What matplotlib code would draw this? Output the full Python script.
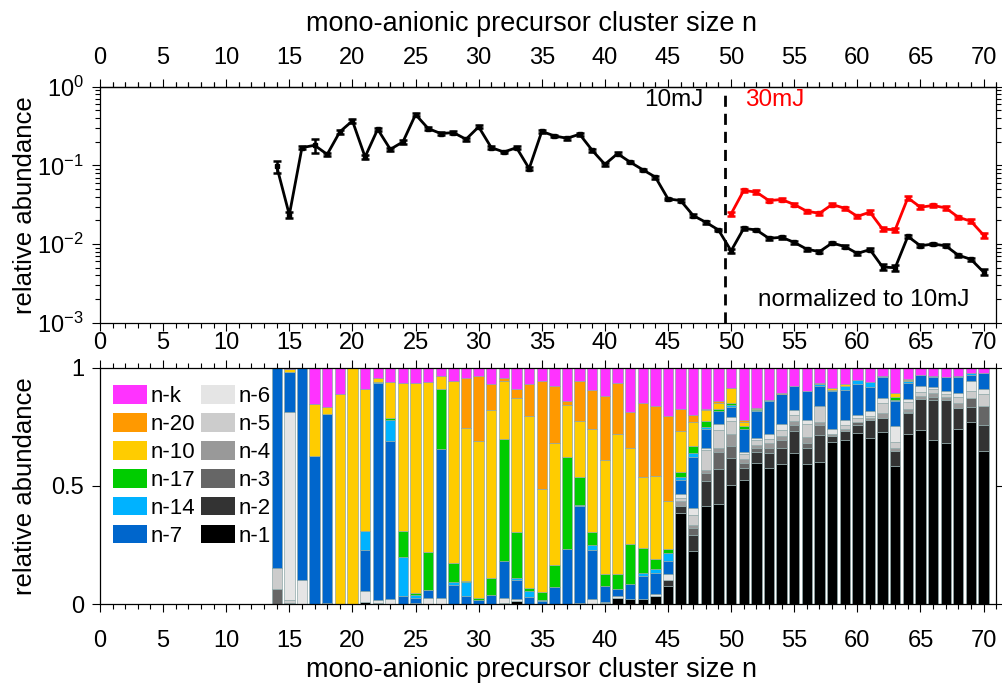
import numpy as np
import matplotlib
matplotlib.use('Agg')
import matplotlib.pyplot as plt
from matplotlib.patches import Patch
from matplotlib.ticker import FixedLocator, LogLocator, NullFormatter

plt.rcParams['font.family'] = ['Liberation Sans', 'DejaVu Sans']
plt.rcParams['font.size'] = 17

# cluster sizes
sizes = list(range(14, 71))
sizes_30mJ = list(range(50, 71))

# upper panel: relative abundance (10mJ, 14..70)
abund_10mJ = [0.097, 0.0235, 0.168, 0.18, 0.138, 0.267, 0.368, 0.128, 0.288, 0.16,
              0.199, 0.443, 0.294, 0.254, 0.261, 0.215, 0.309, 0.168, 0.148, 0.168,
              0.091, 0.27, 0.237, 0.221, 0.249, 0.155, 0.103, 0.141, 0.110, 0.088,
              0.071, 0.0375, 0.0357, 0.023, 0.0189, 0.0151, 0.0082, 0.0158, 0.0151, 0.0118,
              0.0122, 0.0105, 0.0086, 0.008, 0.0103, 0.0093, 0.0076, 0.0085, 0.0051, 0.0050,
              0.0125, 0.0095, 0.010, 0.0095, 0.0072, 0.0064, 0.0044]
err_10mJ = [0.017, 0.0018, 0.008, 0.035, 0.007, 0.013, 0.018, 0.006, 0.014, 0.008,
            0.01, 0.02, 0.013, 0.011, 0.011, 0.009, 0.013, 0.007, 0.006, 0.007,
            0.004, 0.011, 0.009, 0.009, 0.01, 0.006, 0.004, 0.005, 0.004, 0.003,
            0.003, 0.0015, 0.0014, 0.0009, 0.0008, 0.0006, 0.0004, 0.0007, 0.0006, 0.0005,
            0.0005, 0.0004, 0.0004, 0.0004, 0.0004, 0.0004, 0.0003, 0.0003, 0.0004, 0.0004,
            0.0005, 0.0004, 0.0004, 0.0004, 0.0003, 0.0003, 0.0004]
# 30mJ, 50..70
abund_30mJ = [0.0242, 0.048, 0.0457, 0.0357, 0.0368, 0.0318, 0.0261, 0.0246, 0.0318, 0.0285,
              0.0225, 0.0254, 0.0155, 0.0152, 0.0386, 0.0294, 0.0309, 0.0288, 0.0219, 0.0195,
              0.013]
err_30mJ = [0.0015, 0.0025, 0.0023, 0.0018, 0.0018, 0.0016, 0.0013, 0.0013, 0.0016, 0.0014,
            0.0011, 0.0013, 0.001, 0.001, 0.002, 0.0015, 0.0015, 0.0015, 0.0011, 0.0011,
            0.0009]

# lower panel: fragment fractions per precursor size (missing sizes = 0)
frac_n1 = {18: 0.003, 21: 0.008, 22: 0.005, 33: 0.014, 40: 0.005, 41: 0.024, 42: 0.021,
           43: 0.021, 44: 0.032, 45: 0.077, 46: 0.385, 47: 0.224, 48: 0.413, 49: 0.423,
           50: 0.504, 51: 0.525, 52: 0.598, 53: 0.574, 54: 0.592, 55: 0.64, 56: 0.592,
           57: 0.6, 58: 0.686, 59: 0.693, 60: 0.725, 61: 0.704, 62: 0.728, 63: 0.584,
           64: 0.718, 65: 0.738, 66: 0.693, 67: 0.682, 68: 0.739, 69: 0.77, 70: 0.648}
frac_n2 = {15: 0.005, 45: 0.025, 46: 0.028, 47: 0.067, 48: 0.109, 49: 0.147, 50: 0.112,
           51: 0.049, 52: 0.046, 53: 0.066, 54: 0.07, 55: 0.091, 56: 0.07, 57: 0.117,
           58: 0.024, 59: 0.038, 60: 0.034, 61: 0.073, 62: 0.061, 63: 0.064, 64: 0.09,
           65: 0.13, 66: 0.171, 67: 0.182, 68: 0.091, 69: 0.063, 70: 0.108}
frac_n3 = {14: 0.063, 32: 0.005, 47: 0.031, 48: 0.034, 49: 0.074, 50: 0.052, 51: 0.024,
           52: 0.018, 53: 0.022, 54: 0.031, 55: 0.025, 56: 0.021, 57: 0.039, 60: 0.011,
           64: 0.004, 66: 0.011, 69: 0.04, 70: 0.08}
frac_n4 = {46: 0.021, 47: 0.011, 48: 0.011, 49: 0.018, 50: 0.05, 51: 0.014, 52: 0.01,
           53: 0.02, 54: 0.017, 55: 0.019, 56: 0.024, 57: 0.014, 58: 0.008, 59: 0.011,
           61: 0.01, 62: 0.019, 63: 0.014, 64: 0.014, 65: 0.014, 66: 0.019, 67: 0.011,
           68: 0.02}
frac_n5 = {14: 0.091, 15: 0.01, 46: 0.015, 47: 0.045, 48: 0.084, 49: 0.073, 50: 0.055,
           51: 0.021, 52: 0.024, 53: 0.018, 54: 0.025, 55: 0.024, 56: 0.053, 57: 0.066,
           59: 0.017, 60: 0.018, 61: 0.01, 62: 0.042, 63: 0.024, 64: 0.028, 65: 0.017,
           66: 0.017, 67: 0.014, 68: 0.028, 69: 0.027, 70: 0.053}
frac_n6 = {15: 0.797, 16: 0.10, 21: 0.049, 22: 0.01, 23: 0.02, 25: 0.005, 26: 0.025,
           27: 0.024, 32: 0.019, 33: 0.007, 38: 0.005, 39: 0.02, 40: 0.005, 41: 0.008,
           44: 0.01, 45: 0.024, 46: 0.016, 47: 0.028, 48: 0.011, 49: 0.028, 50: 0.018,
           51: 0.01, 52: 0.008, 53: 0.018, 54: 0.028, 55: 0.023, 56: 0.02, 58: 0.024,
           59: 0.018, 60: 0.013, 61: 0.018, 62: 0.023, 63: 0.066, 64: 0.014, 65: 0.023,
           66: 0.009, 67: 0.014, 68: 0.016, 69: 0.045, 70: 0.021}
frac_n7 = {14: 0.846, 15: 0.171, 16: 0.90, 17: 0.627, 18: 0.802, 21: 0.171, 22: 0.919,
           23: 0.669, 24: 0.035, 25: 0.02, 26: 0.034, 27: 0.634, 28: 0.08, 29: 0.032,
           30: 0.017, 31: 0.038, 32: 0.158, 33: 0.081, 34: 0.028, 35: 0.014, 36: 0.074,
           37: 0.231, 38: 0.408, 39: 0.208, 40: 0.067, 41: 0.031, 42: 0.063, 43: 0.098,
           44: 0.088, 45: 0.056, 46: 0.06, 47: 0.217, 48: 0.08, 49: 0.052, 50: 0.042,
           51: 0.099, 52: 0.113, 53: 0.143, 54: 0.127, 55: 0.102, 56: 0.123, 57: 0.086,
           58: 0.158, 59: 0.129, 60: 0.128, 61: 0.105, 62: 0.086, 63: 0.105, 64: 0.066,
           65: 0.045, 66: 0.042, 67: 0.057, 68: 0.065, 69: 0.025, 70: 0.066}
frac_n14 = {21: 0.083, 22: 0.004, 23: 0.091, 24: 0.164, 25: 0.015, 28: 0.014, 29: 0.062,
            33: 0.007, 34: 0.028, 35: 0.004, 38: 0.007, 39: 0.02, 43: 0.011, 44: 0.02,
            45: 0.032, 46: 0.014, 47: 0.014, 48: 0.005, 49: 0.003, 50: 0.01, 52: 0.003,
            53: 0.003, 57: 0.007, 58: 0.006, 59: 0.018, 60: 0.021, 61: 0.018, 62: 0.007,
            63: 0.007, 64: 0.008, 65: 0.004, 66: 0.004, 68: 0.007, 69: 0.006}
frac_n17 = {23: 0.008, 24: 0.109, 25: 0.005, 26: 0.161, 27: 0.25, 28: 0.078, 29: 0.004,
            30: 0.007, 31: 0.071, 32: 0.518, 33: 0.195, 34: 0.011, 35: 0.034, 36: 0.09,
            37: 0.392, 38: 0.116, 39: 0.056, 40: 0.049, 41: 0.063, 42: 0.168, 43: 0.105,
            44: 0.039, 45: 0.02, 46: 0.021, 47: 0.031, 48: 0.026, 49: 0.007, 50: 0.007,
            51: 0.01, 52: 0.004, 63: 0.014, 64: 0.003}
frac_n10 = {15: 0.012, 17: 0.22, 18: 0.028, 19: 0.889, 20: 1.0, 21: 0.599, 22: 0.019,
            23: 0.15, 24: 0.626, 25: 0.89, 26: 0.718, 27: 0.056, 28: 0.773, 29: 0.648,
            30: 0.666, 31: 0.713, 32: 0.245, 33: 0.569, 34: 0.727, 35: 0.435, 36: 0.518,
            37: 0.22, 38: 0.237, 39: 0.435, 40: 0.483, 41: 0.595, 42: 0.41, 43: 0.301,
            44: 0.353, 45: 0.2, 46: 0.171, 47: 0.102, 48: 0.046, 49: 0.025, 50: 0.065,
            51: 0.018, 52: 0.004, 58: 0.009, 59: 0.007, 63: 0.016, 64: 0.003}
frac_n20 = {29: 0.211, 30: 0.274, 31: 0.107, 32: 0.01, 33: 0.037, 34: 0.137, 35: 0.458,
            36: 0.242, 37: 0.018, 38: 0.17, 39: 0.167, 40: 0.271, 41: 0.213, 42: 0.15,
            43: 0.314, 44: 0.298, 45: 0.36, 46: 0.095, 47: 0.028, 48: 0.007, 49: 0.008,
            51: 0.007, 54: 0.004, 57: 0.007, 64: 0.004}
frac_nk = {15: 0.005, 17: 0.153, 18: 0.167, 19: 0.111, 21: 0.09, 22: 0.043, 23: 0.062,
           24: 0.066, 25: 0.065, 26: 0.062, 27: 0.036, 28: 0.055, 29: 0.043, 30: 0.036,
           31: 0.071, 32: 0.045, 33: 0.09, 34: 0.069, 35: 0.055, 36: 0.076, 37: 0.139,
           38: 0.057, 39: 0.094, 40: 0.12, 41: 0.066, 42: 0.188, 43: 0.15, 44: 0.16,
           45: 0.206, 46: 0.174, 47: 0.202, 48: 0.174, 49: 0.142, 50: 0.085, 51: 0.223,
           52: 0.172, 53: 0.136, 54: 0.106, 55: 0.076, 56: 0.097, 57: 0.064, 58: 0.085,
           59: 0.069, 60: 0.05, 61: 0.062, 62: 0.034, 63: 0.106, 64: 0.048, 65: 0.029,
           66: 0.034, 67: 0.04, 68: 0.034, 69: 0.024, 70: 0.024}

# stacking order bottom -> top
stack_labels = ['n-1', 'n-2', 'n-3', 'n-4', 'n-5', 'n-6', 'n-7', 'n-14', 'n-17', 'n-10', 'n-20', 'n-k']
stack_data = [frac_n1, frac_n2, frac_n3, frac_n4, frac_n5, frac_n6, frac_n7,
              frac_n14, frac_n17, frac_n10, frac_n20, frac_nk]
stack_colors = ['#000000', '#333333', '#666666', '#999999', '#cccccc', '#e5e5e5',
                '#0066cc', '#00b2ff', '#00cc00', '#ffcc00', '#ff9900', '#ff33ff']

xlabel_text = 'mono-anionic precursor cluster size n'
label_fs = 19.5
major_x = list(range(0, 71, 5))
minor_x = list(range(0, 72))

fig = plt.figure(figsize=(10.02, 6.86), dpi=100)
ax1 = fig.add_axes([0.0998, 0.5296, 0.8944, 0.344])
ax2 = fig.add_axes([0.0998, 0.1195, 0.8944, 0.3445])

# ---- upper panel
ax1.errorbar(sizes, abund_10mJ, yerr=err_10mJ, color='black', lw=2, marker='s', ms=3,
             capsize=3, capthick=1.8, elinewidth=1.8)
ax1.errorbar(sizes_30mJ, abund_30mJ, yerr=err_30mJ, color='#ff0000', lw=2, marker='s', ms=3,
             capsize=3, capthick=1.8, elinewidth=1.8)
ax1.axvline(49.5, ymin=0, ymax=0.972, color='black', lw=2, ls=(0, (4, 2.5)))
ax1.text(47.8, 0.68, '10mJ', ha='right', va='center', color='black', fontsize=17.5)
ax1.text(51.1, 0.68, '30mJ', ha='left', va='center', color='#ff0000', fontsize=17.5)
ax1.text(52.1, 0.00195, 'normalized to 10mJ', ha='left', va='center', color='black', fontsize=17.5)

ax1.set_yscale('log')
ax1.set_ylim(1e-3, 1)
ax1.set_xlim(0, 71)
ax1.yaxis.set_major_locator(LogLocator(base=10, numticks=10))
ax1.yaxis.set_minor_locator(LogLocator(base=10, subs=np.arange(2, 10), numticks=10))
ax1.yaxis.set_minor_formatter(NullFormatter())
ax1.set_ylabel('relative abundance', fontsize=18.5)

# top axis of upper panel with its own labels
top = ax1.secondary_xaxis('top')
top.xaxis.set_major_locator(FixedLocator(major_x))
top.xaxis.set_minor_locator(FixedLocator(minor_x))
top.tick_params(which='both', direction='out', width=0.8)
top.tick_params(which='major', length=6, pad=7)
top.tick_params(which='minor', length=3.5)
top.spines['top'].set_linewidth(0.9)
top.set_xlabel(xlabel_text, fontsize=label_fs)
top.xaxis.set_label_coords(0.53, 0.955, transform=fig.transFigure)

# ---- lower panel
bottom = np.zeros(len(sizes))
for lab, d, c in zip(stack_labels, stack_data, stack_colors):
    vals = np.array([d.get(n, 0.0) for n in sizes])
    ax2.bar(sizes, vals, 0.82, bottom=bottom, color=c, edgecolor='#8fa8a8', linewidth=0.5)
    bottom += vals

ax2.set_xlim(0, 71)
ax2.set_ylim(0, 1)
ax2.set_yticks([0, 0.5, 1])
ax2.set_yticklabels(['0', '0.5', '1'])
ax2.set_ylabel('relative abundance', fontsize=18.5)
ax2.set_xlabel(xlabel_text, fontsize=label_fs)
ax2.xaxis.set_label_coords(0.53, 0.043, transform=fig.transFigure)

leg_order = ['n-k', 'n-20', 'n-10', 'n-17', 'n-14', 'n-7', 'n-6', 'n-5', 'n-4', 'n-3', 'n-2', 'n-1']
handles = [Patch(facecolor=stack_colors[stack_labels.index(l)], edgecolor='none') for l in leg_order]
ax2.legend(handles, leg_order, ncol=2, loc='upper left', bbox_to_anchor=(0.015, 0.925),
           frameon=False, fontsize=16, handlelength=1.5, handleheight=0.9, handletextpad=0.15,
           labelspacing=0.27, columnspacing=0.3, borderpad=0, borderaxespad=0)

for ax in (ax1, ax2):
    ax.xaxis.set_major_locator(FixedLocator(major_x))
    ax.xaxis.set_minor_locator(FixedLocator(minor_x))
    for s in ax.spines.values():
        s.set_linewidth(0.9)
    ax.tick_params(which='both', direction='out', top=True, right=True, width=0.8)
    ax.tick_params(which='major', length=6)
    ax.tick_params(which='minor', length=3.5)
    ax.tick_params(axis='y', which='major', pad=5.5)
    ax.yaxis.set_label_coords(-0.07, 0.5)

ax1.tick_params(top=False, labeltop=False, labelbottom=True)
ax1.tick_params(axis='x', which='major', pad=1)
ax2.tick_params(axis='x', which='major', pad=13)

fig.savefig('out.png', dpi=100)
